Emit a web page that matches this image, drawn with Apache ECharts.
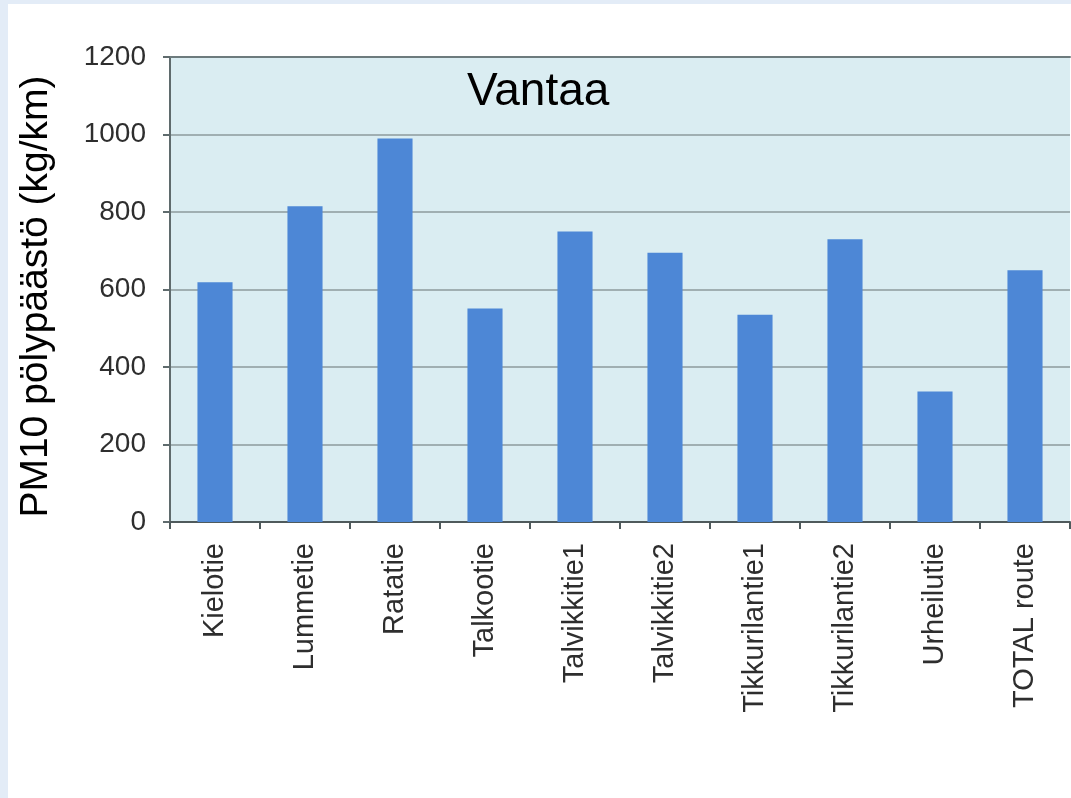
<!DOCTYPE html>
<html>
<head>
<meta charset="utf-8">
<script src="https://cdn.jsdelivr.net/npm/echarts@6/dist/echarts.min.js"></script>
<style>
  html, body { margin: 0; padding: 0; background: #ffffff; }
  #chart { width: 1071px; height: 798px; }
</style>
</head>
<body>
<div id="chart"></div>
<script>
// PM10 dust emission per road, Vantaa
const categories = ['Kielotie', 'Lummetie', 'Ratatie', 'Talkootie', 'Talvikkitie1',
  'Talvikkitie2', 'Tikkurilantie1', 'Tikkurilantie2', 'Urheilutie', 'TOTAL route'];
const emissions = [619, 815, 990, 551, 750, 695, 535, 730, 337, 650];
const yTicks = { min: 0, max: 1200, step: 200 };

const FONT = '"Liberation Sans", Arial, sans-serif';
const chart = echarts.init(document.getElementById('chart'), null, { renderer: 'canvas' });

chart.setOption({
  backgroundColor: '#ffffff',
  animation: false,
  graphic: [
    { type: 'rect', shape: { x: 0, y: 0, width: 1071, height: 4 }, style: { fill: '#e3ecf7' }, z: 100 },
    { type: 'rect', shape: { x: 0, y: 0, width: 8, height: 798 }, style: { fill: '#e3ecf7' }, z: 100 },
    { type: 'text', left: 467, top: 69, z: 100,
      style: { text: 'Vantaa', font: '46px ' + FONT, fill: '#000000' } }
  ],
  grid: {
    left: 170, top: 57, right: 1, bottom: 276,
    show: true, backgroundColor: '#daedf2', borderWidth: 0
  },
  xAxis: [{
    type: 'category',
    data: categories,
    position: 'bottom',
    axisLine: { lineStyle: { color: '#4f5a5c', width: 2 } },
    axisTick: { show: true, length: 7, lineStyle: { color: '#4f5a5c', width: 2 } },
    axisLabel: {
      rotate: 90, margin: 21, interval: 0,
      fontFamily: FONT, fontSize: 29, color: '#2e2e2e'
    },
    splitLine: { show: false }
  }, {
    type: 'category',
    data: categories,
    position: 'top',
    axisLine: { lineStyle: { color: '#6d7b7d', width: 2 } },
    axisTick: { show: false },
    axisLabel: { show: false }
  }],
  yAxis: {
    type: 'value',
    min: yTicks.min, max: yTicks.max, interval: yTicks.step,
    name: 'PM10 pölypäästö (kg/km)',
    nameLocation: 'middle',
    nameGap: 114,
    nameTextStyle: { fontFamily: FONT, fontSize: 39, color: '#000000', padding: [0, 14, 0, 0] },
    axisLine: { show: true, lineStyle: { color: '#5f6b6d', width: 2 } },
    axisTick: { show: true, length: 7, lineStyle: { color: '#5f6b6d', width: 2 } },
    axisLabel: {
      margin: 24, fontFamily: FONT, fontSize: 28, color: '#2e2e2e',
      formatter: v => String(v)
    },
    splitLine: { lineStyle: { color: '#8c9a9c', width: 1.5 } }
  },
  series: [{
    type: 'bar',
    data: emissions,
    barWidth: '39%',
    itemStyle: { color: '#4d87d6' }
  }]
});
</script>
</body>
</html>
